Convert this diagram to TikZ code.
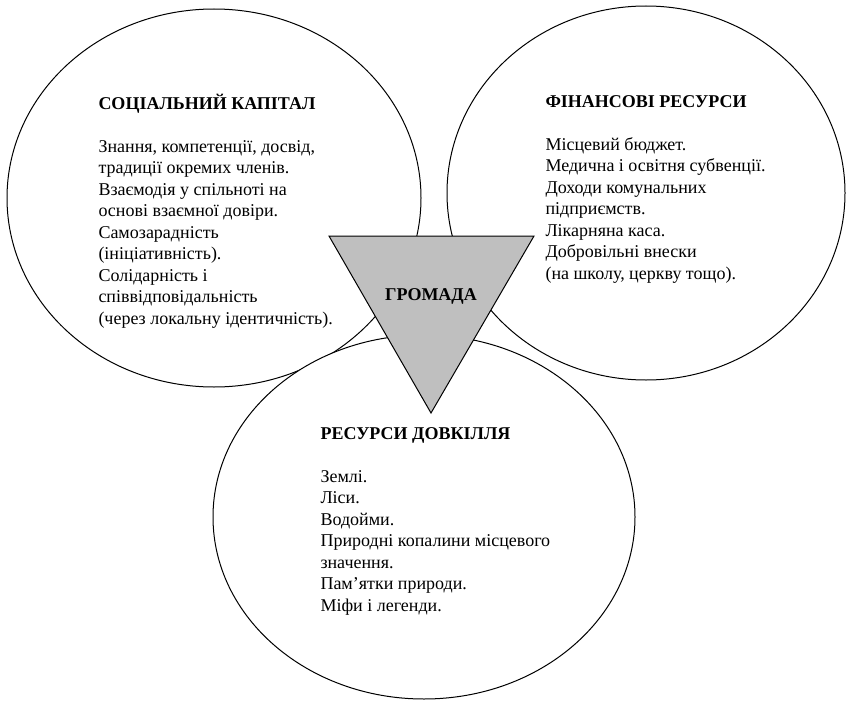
\documentclass[tikz,border=0pt]{standalone}
\usepackage{fontspec}
\setmainfont{LiberationSerif}[Extension=.ttf,UprightFont=*-Regular,BoldFont=*-Bold]
\usepackage{tikz}
\usetikzlibrary{shapes.geometric}
\definecolor{hromgray}{HTML}{BFBFBF}

\begin{document}
\begin{tikzpicture}[x=1pt,y=-1pt,line width=1pt,
  resoval/.style={draw,ellipse,fill=white,inner sep=0pt},
  restext/.style={font=\fontsize{18}{21.5}\selectfont,align=left,anchor=north west,inner sep=0pt}]
\useasboundingbox (0,0) rectangle (846,701);
\node[resoval,minimum width=414pt,minimum height=378pt] (social) at (214,198) {};
\node[resoval,minimum width=398pt,minimum height=374pt] (finance) at (646,193) {};
\node[resoval,minimum width=422pt,minimum height=364pt] (nature) at (424,517) {};
\node[restext] (socialtext) at (98,93.5) {\textbf{СОЦІАЛЬНИЙ КАПІТАЛ}\\[21.5pt]
Знання, компетенції, досвід,\\ традиції окремих членів.\\ Взаємодія у спільноті на\\ основі взаємної довіри.\\
Самозарадність\\ (ініціативність).\\ Солідарність і\\ співвідповідальність\\ (через локальну ідентичність).};
\node[restext] (financetext) at (545,95) {\textbf{ФІНАНСОВІ РЕСУРСИ}\\[21.5pt]
Місцевий бюджет.\\ Медична і освітня субвенції.\\ Доходи комунальних\\ підприємств.\\ Лікарняна каса.\\
Добровільні внески\\ (на школу, церкву тощо).};
\node[restext] (naturetext) at (320,427) {\textbf{РЕСУРСИ ДОВКІЛЛЯ}\\[21.5pt]
Землі.\\ Ліси.\\ Водойми.\\ Природні копалини місцевого\\ значення.\\ Пам’ятки природи.\\ Міфи і легенди.};
\coordinate (hromtl) at (329,236);
\coordinate (hromtr) at (534,236);
\coordinate (hrombot) at (431,413);
\draw[fill=hromgray] (hromtl) -- (hromtr) -- (hrombot) -- cycle;
\node[font=\fontsize{18}{21.5}\selectfont\bfseries] (hromada) at (431,296) {ГРОМАДА};
\end{tikzpicture}
\end{document}
